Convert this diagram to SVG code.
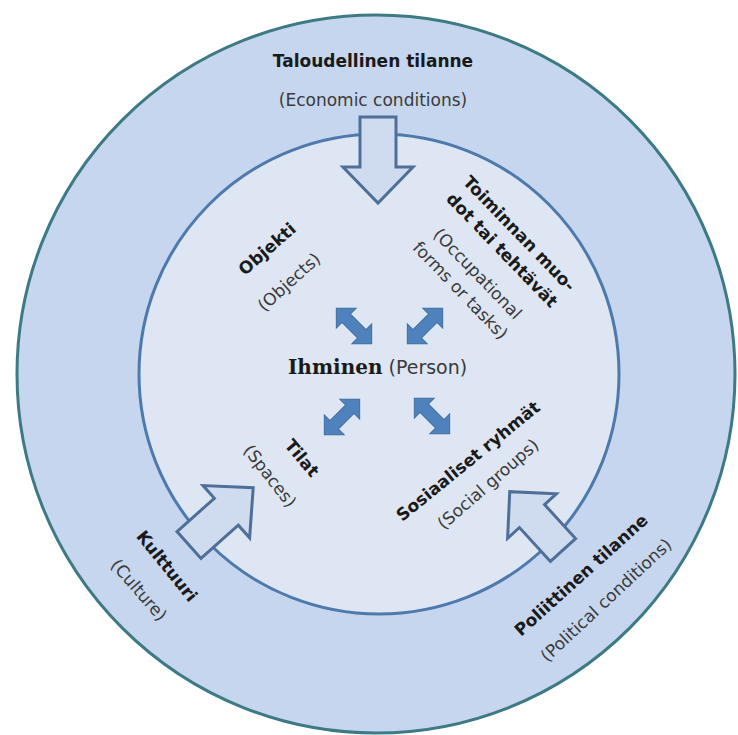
<svg xmlns="http://www.w3.org/2000/svg" width="738" height="735" viewBox="0 0 738 735">
<style>
.b{font-family:"DejaVu Sans",Verdana,sans-serif;font-weight:bold;font-size:17px;fill:#1a1a1a;text-anchor:middle}
.r{font-family:"DejaVu Sans",Verdana,sans-serif;font-size:17px;fill:#3a3a3a;text-anchor:middle}
.big{fill:#cfdcef;stroke:#4f6f99;stroke-width:3;stroke-linejoin:miter}
.sm{fill:#4f81bd;stroke:#3f6d9f;stroke-width:1}
</style>
<defs>
<path id="bigArrow" d="M0,-18 L50,-18 L50,-35 L86,0 L50,35 L50,18 L0,18 Z"/>
<path id="dbl" d="M-25,0 L-11,-14 L-11,-6 L11,-6 L11,-14 L25,0 L11,14 L11,6 L-11,6 L-11,14 Z"/>
</defs>
<rect width="738" height="735" fill="#ffffff"/>
<g id="outer">
<circle cx="376" cy="374" r="359" fill="#c6d6ee" stroke="#3d7a84" stroke-width="3"/>
</g>
<g id="inner">
<circle cx="379" cy="374" r="240" fill="#dde6f2" stroke="#4d79ad" stroke-width="3"/>
</g>
<g id="connectors">
<use href="#bigArrow" class="big" transform="translate(378,117) rotate(90)"/>
<use href="#bigArrow" class="big" transform="translate(189,545) rotate(-41.7)"/>
<path class="big" d="M0,-17 L46,-17 L46,-33 L79,0 L46,33 L46,17 L0,17 Z" transform="translate(563,550) rotate(-132.4)"/>
<use href="#dbl" class="sm" transform="translate(354,326) rotate(45)"/>
<use href="#dbl" class="sm" transform="translate(425,326) rotate(-45)"/>
<use href="#dbl" class="sm" transform="translate(342,417) rotate(-45)"/>
<use href="#dbl" class="sm" transform="translate(432,416) rotate(45)"/>
</g>
<g id="economic">
<text class="b" x="373" y="67">Taloudellinen tilanne</text>
<text class="r" x="373" y="106">(Economic conditions)</text>
</g>
<g id="person">
<text x="288" y="374" style="font-size:20px;fill:#1a1a1a"><tspan style="font-family:'DejaVu Serif',Cambria,serif;font-weight:bold">Ihminen</tspan><tspan style="font-family:'DejaVu Sans',Verdana,sans-serif;fill:#3a3a3a;font-size:19px"> (Person)</tspan></text>
</g>
<g id="objects">
<text class="b" dy="0.35em" transform="translate(267,249) rotate(-41)">Objekti</text>
<text class="r" dy="0.35em" transform="translate(289,282) rotate(-42)">(Objects)</text>
</g>
<g id="tasks" transform="translate(518,232) rotate(46)">
<text class="b" x="2" y="0" dy="0.35em">Toiminnan muo-</text>
<text class="b" x="2" y="24" dy="0.35em">dot tai tehtävät</text>
<text class="r" x="2" y="58" dy="0.35em">(Occupational</text>
<text class="r" x="2" y="82" dy="0.35em">forms or tasks)</text>
</g>
<g id="spaces">
<text class="b" dy="0.35em" transform="translate(302,458) rotate(50)">Tilat</text>
<text class="r" dy="0.35em" transform="translate(270,476) rotate(52)">(Spaces)</text>
</g>
<g id="social">
<text class="b" dy="0.35em" transform="translate(468,461) rotate(-39)">Sosiaaliset ryhmät</text>
<text class="r" dy="0.35em" transform="translate(488,484) rotate(-41)">(Social groups)</text>
</g>
<g id="culture">
<text class="b" dy="0.35em" transform="translate(167,566) rotate(51)">Kulttuuri</text>
<text class="r" dy="0.35em" transform="translate(139,590) rotate(49)">(Culture)</text>
</g>
<g id="political">
<text class="b" dy="0.35em" transform="translate(581,575) rotate(-42)">Poliittinen tilanne</text>
<text class="r" dy="0.35em" transform="translate(606,600) rotate(-43)">(Political conditions)</text>
</g>
</svg>
